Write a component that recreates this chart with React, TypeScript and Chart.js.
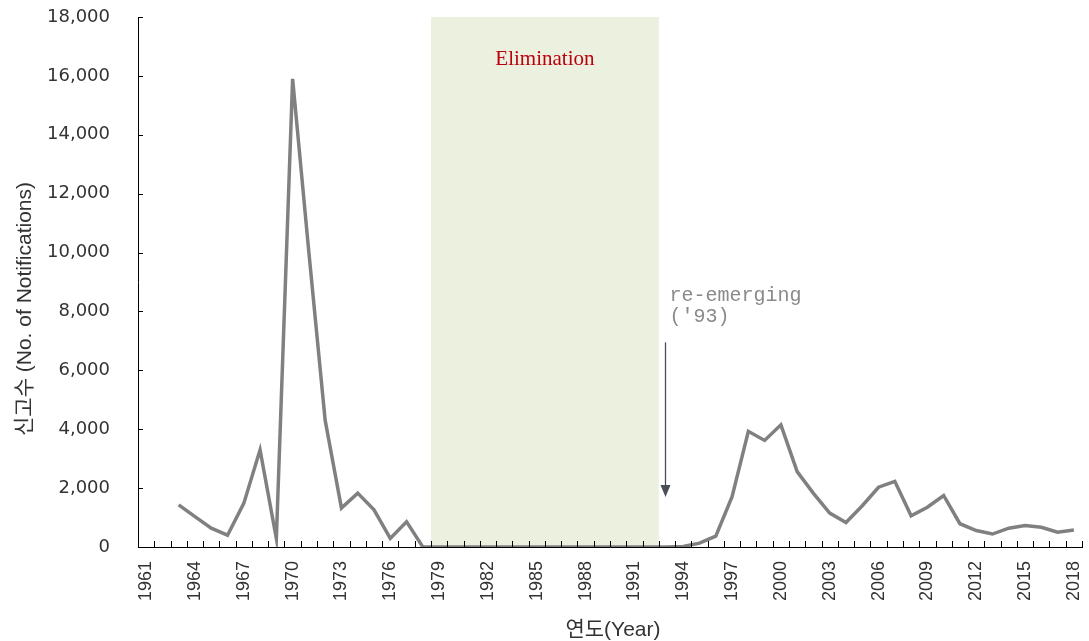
import React, { useEffect, useRef } from 'react';
import { Chart, registerables } from 'chart.js';

Chart.register(...registerables);

const YEARS = [
  '1961', '1962', '1963', '1964', '1965', '1966', '1967', '1968', '1969', '1970',
  '1971', '1972', '1973', '1974', '1975', '1976', '1977', '1978', '1979', '1980',
  '1981', '1982', '1983', '1984', '1985', '1986', '1987', '1988', '1989', '1990',
  '1991', '1992', '1993', '1994', '1995', '1996', '1997', '1998', '1999', '2000',
  '2001', '2002', '2003', '2004', '2005', '2006', '2007', '2008', '2009', '2010',
  '2011', '2012', '2013', '2014', '2015', '2016', '2017', '2018',
];

const NOTIFICATIONS: (number | null)[] = [
  null, null, 1430, 1030, 640, 400, 1480, 3300, 290, 15900,
  10000, 4300, 1320, 1830, 1260, 290, 860, 0, 0, 0,
  0, 0, 0, 0, 0, 0, 0, 0, 0, 0,
  0, 0, 0, 20, 130, 370, 1710, 3930, 3620, 4150,
  2560, 1820, 1150, 830, 1400, 2030, 2230, 1060, 1350, 1750,
  790, 560, 440, 640, 730, 670, 500, 580,
];

const Y_MIN = 0;
const Y_MAX = 18000;
const Y_STEP = 2000;

const ELIM_START = '1979';
const ELIM_END = '1992';
const ELIM_LABEL = 'Elimination';

const ARROW_YEAR = '1993';
const ARROW_FROM = 6950;
const ARROW_TO = 1700;
const ANNOT_LINES = ['re-emerging', "('93)"];

const Y_TITLE = '신고수 (No. of Notifications)';
const X_TITLE = '연도(Year)';

const BAND_COLOR = '#EBF1DE';
const LINE_COLOR = '#808080';
const TEXT_COLOR = '#333333';
const SANS = "'Liberation Sans', 'Noto Sans CJK KR', sans-serif";

const decorPlugin = {
  id: 'decor',
  beforeDraw(chart: any) {
    const { ctx, chartArea, scales } = chart;
    const x = scales.x;
    const half = (x.getPixelForValue(1) - x.getPixelForValue(0)) / 2;
    const l = x.getPixelForValue(YEARS.indexOf(ELIM_START)) - half;
    const r = x.getPixelForValue(YEARS.indexOf(ELIM_END)) + half;
    ctx.save();
    ctx.fillStyle = BAND_COLOR;
    ctx.fillRect(l, chartArea.top, r - l, chartArea.bottom - chartArea.top - 1);
    ctx.restore();
  },
  afterDraw(chart: any) {
    const { ctx, chartArea, scales } = chart;
    const x = scales.x;
    const y = scales.y;
    const half = (x.getPixelForValue(1) - x.getPixelForValue(0)) / 2;
    ctx.save();
    // inward tick marks
    ctx.strokeStyle = '#000';
    ctx.lineWidth = 1;
    ctx.beginPath();
    for (let i = 0; i < YEARS.length; i++) {
      const px = Math.round(x.getPixelForValue(i) + half) + 0.5;
      ctx.moveTo(px, chartArea.bottom);
      ctx.lineTo(px, chartArea.bottom - 6);
    }
    for (let v = Y_MIN; v <= Y_MAX; v += Y_STEP) {
      const py = Math.round(y.getPixelForValue(v)) + 0.5;
      ctx.moveTo(chartArea.left, py);
      ctx.lineTo(chartArea.left + 5, py);
    }
    ctx.stroke();

    // Elimination label
    const l = x.getPixelForValue(YEARS.indexOf(ELIM_START)) - half;
    const r = x.getPixelForValue(YEARS.indexOf(ELIM_END)) + half;
    ctx.fillStyle = '#B8000E';
    ctx.font = "21px 'Liberation Serif', serif";
    ctx.textAlign = 'center';
    ctx.textBaseline = 'middle';
    ctx.fillText(ELIM_LABEL, (l + r) / 2, chartArea.top + 42);

    // arrow
    const ax = Math.round(x.getPixelForValue(YEARS.indexOf(ARROW_YEAR))) - 1.5;
    const ay1 = y.getPixelForValue(ARROW_FROM);
    const ay2 = y.getPixelForValue(ARROW_TO);
    ctx.strokeStyle = '#4A4F55';
    ctx.fillStyle = '#4A4F55';
    ctx.lineWidth = 1.3;
    ctx.beginPath();
    ctx.moveTo(ax, ay1);
    ctx.lineTo(ax, ay2 - 10);
    ctx.stroke();
    ctx.beginPath();
    ctx.moveTo(ax, ay2);
    ctx.lineTo(ax - 5, ay2 - 12);
    ctx.lineTo(ax + 5, ay2 - 12);
    ctx.closePath();
    ctx.fill();

    // annotation text
    ctx.fillStyle = '#8A8A8A';
    ctx.font = "20px 'Liberation Mono', monospace";
    ctx.textAlign = 'left';
    ctx.textBaseline = 'middle';
    ctx.fillText(ANNOT_LINES[0], ax + 4, ay1 - 47);
    ctx.fillText(ANNOT_LINES[1], ax + 4, ay1 - 26);

    // axis titles
    ctx.fillStyle = TEXT_COLOR;
    ctx.font = `21px ${SANS}`;
    ctx.textAlign = 'center';
    ctx.textBaseline = 'middle';
    ctx.fillText(X_TITLE, 613, 630);
    ctx.translate(25, 309);
    ctx.rotate(-Math.PI / 2);
    ctx.fillText(Y_TITLE, 0, 0);
    ctx.restore();
  },
};

export default function App() {
  const ref = useRef<HTMLCanvasElement | null>(null);

  useEffect(() => {
    document.body.style.margin = '0';
    const canvas = ref.current;
    if (!canvas) return;
    const chart = new Chart(canvas, {
      type: 'line',
      data: {
        labels: YEARS,
        datasets: [
          {
            data: NOTIFICATIONS,
            borderColor: LINE_COLOR,
            borderWidth: 3.5,
            pointRadius: 0,
            tension: 0,
            fill: false,
          },
        ],
      },
      options: {
        animation: false,
        responsive: false,
        maintainAspectRatio: false,
        layout: { padding: { left: 0, right: 7, top: 17, bottom: 0 } },
        plugins: {
          legend: { display: false },
          tooltip: { enabled: false },
        },
        scales: {
          x: {
            type: 'category',
            offset: true,
            grid: { display: false, drawTicks: false },
            border: { display: true, color: '#000', width: 1 },
            ticks: {
              autoSkip: false,
              maxRotation: 90,
              minRotation: 90,
              padding: 14,
              color: TEXT_COLOR,
              font: { family: SANS, size: 18 },
              callback: (_v: any, i: number) => (i % 3 === 0 ? YEARS[i] : ''),
            },
            afterFit: (s: any) => {
              s.height = 94;
              s.paddingLeft = 0;
              s.paddingRight = 0;
              s.paddingTop = 0;
              s.paddingBottom = 0;
            },
          },
          y: {
            min: Y_MIN,
            max: Y_MAX,
            grid: { display: false, drawTicks: false },
            border: { display: true, color: '#000', width: 1 },
            ticks: {
              stepSize: Y_STEP,
              padding: 28,
              color: TEXT_COLOR,
              font: { family: "'DejaVu Sans', sans-serif", size: 18 },
              callback: (v: any) => Number(v).toLocaleString('en-US'),
            },
            afterFit: (s: any) => {
              s.width = 138;
              s.paddingLeft = 0;
              s.paddingRight = 0;
              s.paddingTop = 0;
              s.paddingBottom = 0;
            },
          },
        },
      },
      plugins: [decorPlugin],
    } as any);
    return () => chart.destroy();
  }, []);

  return <canvas ref={ref} width={1089} height={641} style={{ display: 'block' }} />;
}
